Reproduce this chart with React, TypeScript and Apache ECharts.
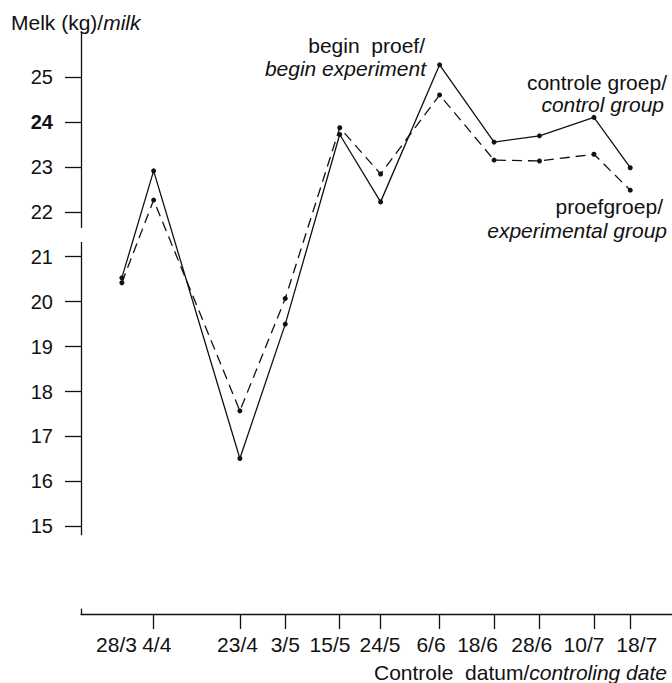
import React, { useEffect, useRef } from "react";
import * as echarts from "echarts";

// ---- data ----
const dateLabels = ["28/3", "4/4", "23/4", "3/5", "15/5", "24/5", "6/6", "18/6", "28/6", "10/7", "18/7"];
const controlGroup = [20.53, 22.91, 16.51, 19.5, 23.72, 22.22, 25.27, 23.55, 23.69, 24.1, 22.98];
const experimentalGroup = [20.42, 22.26, 17.57, 20.07, 23.87, 22.84, 24.6, 23.15, 23.13, 23.28, 22.48];
const yTickValues = [15, 16, 17, 18, 19, 20, 21, 22, 23, 24, 25];

// day offset of each control date, counted from the first date
const dayOf = (label: string) => {
  const [d, m] = label.split("/").map(Number);
  return Math.round((Date.UTC(2001, m - 1, d) - Date.UTC(2001, 2, 28)) / 86400000);
};
const days = dateLabels.map(dayOf);
const indexByDay: Record<number, number> = {};
days.forEach((d, i) => (indexByDay[d] = i));

const X_MIN = -9;
const X_MAX = 121.2;
const Y_MIN = 13.05;
const Y_MAX = 26;

const FONT = "'Liberation Sans', Arial, Helvetica, sans-serif";
const INK = "#111";

// horizontal nudge (px) of each typeset date label relative to its tick (layout only)
const LABEL_NUDGE = [-5.3, 3.1, -2.4, 0, -9.7, -0.6, -8.6, -16.5, -7.7, -9.9, 6.5];

export default function App() {
  const ref = useRef<HTMLDivElement>(null);
  useEffect(() => {
    if (!ref.current) return;
    const chart = echarts.init(ref.current, null, { renderer: "svg" });
    const controlData = days.map((d, i) => [d, controlGroup[i]]);
    const expData = days.map((d, i) => [d, experimentalGroup[i]]);
    const xRich: Record<string, any> = {};
    LABEL_NUDGE.forEach((s, i) => {
      xRich["s" + i] = {
        fontSize: 21,
        fontFamily: FONT,
        color: INK,
        padding: s < 0 ? [0, -2 * s, 0, 0] : [0, 0, 0, 2 * s],
      };
    });
    const textEl = (text: string, x: number, y: number, italic = false, align = "right") => ({
      type: "text",
      x,
      y,
      silent: true,
      style: {
        text,
        fontSize: 21,
        fontFamily: FONT,
        fontStyle: italic ? "italic" : "normal",
        align,
        verticalAlign: "middle",
        fill: INK,
      },
    });
    chart.setOption({
      animation: false,
      backgroundColor: "#fff",
      grid: { left: 81, top: 32, right: 0, bottom: 69, containLabel: false },
      xAxis: {
        type: "value",
        min: X_MIN,
        max: X_MAX,
        axisLine: { show: true, onZero: false, lineStyle: { color: INK, width: 1.3 } },
        axisTick: { show: true, customValues: days.slice(1), length: 15, lineStyle: { color: INK, width: 1.3 } },
        axisLabel: {
          show: true,
          customValues: days,
          showMinLabel: true,
          showMaxLabel: true,
          hideOverlap: false,
          margin: 20,
          fontSize: 21,
          fontFamily: FONT,
          color: INK,
          formatter: (v: number) => {
            const i = indexByDay[v];
            return i === undefined ? "" : "{s" + i + "|" + dateLabels[i] + "}";
          },
          rich: xRich,
        },
        splitLine: { show: false },
      },
      yAxis: {
        type: "value",
        min: Y_MIN,
        max: Y_MAX,
        axisLine: { show: false, onZero: false },
        axisTick: { show: true, customValues: yTickValues, length: 16, lineStyle: { color: INK, width: 1.3 } },
        axisLabel: {
          show: true,
          customValues: yTickValues,
          showMinLabel: true,
          showMaxLabel: true,
          margin: 28,
          fontSize: 20,
          fontFamily: FONT,
          color: INK,
          formatter: (v: number) => (v === 24 ? "{b|24}" : String(v)),
          rich: { b: { fontSize: 20, fontWeight: "bold", fontFamily: FONT, color: INK } },
        },
        splitLine: { show: false },
      },
      series: [
        {
          name: "controle groep",
          type: "line",
          data: controlData,
          clip: false,
          symbol: "circle",
          symbolSize: 5,
          itemStyle: { color: INK },
          lineStyle: { color: INK, width: 1.3, type: "solid" },
          markLine: {
            silent: true,
            symbol: ["none", "none"],
            label: { show: false },
            lineStyle: { color: INK, width: 1.3, type: "solid" },
            data: [
              // broken vertical (milk) axis
              [{ coord: [X_MIN, Y_MAX] }, { coord: [X_MIN, 21.64] }],
              [{ coord: [X_MIN, 21.33] }, { coord: [X_MIN, 14.8] }],
              // small corner mark
              [{ coord: [X_MIN, 13.17] }, { coord: [X_MIN, Y_MIN] }],
            ],
          },
        },
        {
          name: "proefgroep",
          type: "line",
          data: expData,
          clip: false,
          symbol: "circle",
          symbolSize: 5,
          itemStyle: { color: INK },
          lineStyle: { color: INK, width: 1.3, type: [10, 6] },
        },
      ],
      graphic: [
        {
          type: "text",
          x: 11,
          y: 22,
          silent: true,
          style: {
            text: "{a|Melk (kg)/}{b|milk}",
            align: "left",
            verticalAlign: "middle",
            fill: INK,
            rich: {
              a: { fontSize: 21, fontFamily: FONT, color: INK },
              b: { fontSize: 21, fontFamily: FONT, fontStyle: "italic", color: INK },
            },
          },
        },
        textEl("begin  proef/", 425, 45),
        textEl("begin experiment", 426, 68, true),
        textEl("controle groep/", 667, 82),
        textEl("control group", 664, 104, true),
        textEl("proefgroep/", 663, 206),
        textEl("experimental group", 667, 230, true),
        {
          type: "text",
          x: 667,
          y: 672,
          silent: true,
          style: {
            text: "{a|Controle  datum/}{b|controling date}",
            align: "right",
            verticalAlign: "middle",
            fill: INK,
            rich: {
              a: { fontSize: 21, fontFamily: FONT, color: INK },
              b: { fontSize: 21, fontFamily: FONT, fontStyle: "italic", color: INK },
            },
          },
        },
      ],
    });
    return () => chart.dispose();
  }, []);
  return (
    <div
      ref={ref}
      style={{ position: "fixed", left: 0, top: 0, width: 672, height: 683, background: "#fff" }}
    />
  );
}
